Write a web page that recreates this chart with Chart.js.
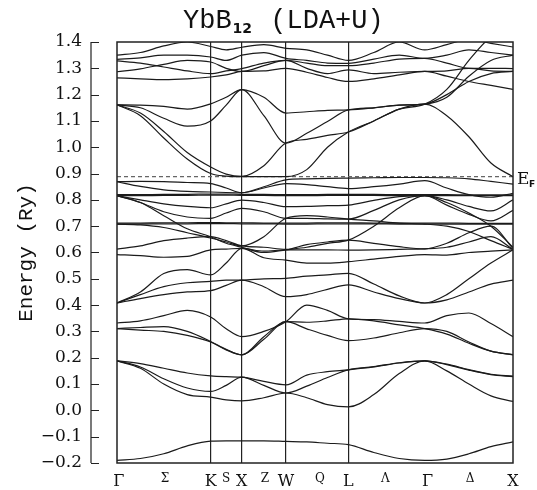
<!DOCTYPE html>
<html>
<head>
<meta charset="utf-8">
<script src="https://cdn.jsdelivr.net/npm/chart.js@4.4.0/dist/chart.umd.min.js"></script>
<style>
  html, body { margin: 0; padding: 0; background: #fff; }
</style>
</head>
<body>
<canvas id="bands" width="537" height="490"></canvas>
<script>
// k-path distances (2pi/a units): G-K-X-W-L-G-X, with sampling points in between
const kPoints = [0, 0.265, 0.530, 0.796, 1.061, 1.237, 1.414, 1.664, 1.914, 2.150, 2.385, 2.621, 2.910, 3.198, 3.487, 3.737, 3.987, 4.237, 4.487];
const symLabels = ["Γ", "Σ", "K", "S", "X", "Z", "W", "Q", "L", "Λ", "Γ", "Δ", "X"];
const symPositions = [0.02, 0.544, 1.061, 1.235, 1.414, 1.677, 1.914, 2.30, 2.621, 3.04, 3.52, 4.0, 4.487];
const minorLabels = ["Σ", "S", "Z", "Q", "Λ", "Δ"];
const lineAt = [1.061, 1.414, 1.914, 2.621, 3.487];
const fermiLevel = 0.888;

// bands (Ry), one value per entry of kPoints
const bandA  = [-0.19, -0.183, -0.165, -0.135, -0.117, -0.116, -0.116, -0.116, -0.118, -0.12, -0.125, -0.13, -0.16, -0.183, -0.19, -0.185, -0.165, -0.138, -0.12];
const bandB1 = [0.188, 0.178, 0.16, 0.142, 0.131, 0.128, 0.126, 0.11, 0.097, 0.134, 0.147, 0.154, 0.165, 0.18, 0.188, 0.176, 0.155, 0.137, 0.13];
const bandB2 = [0.188, 0.165, 0.12, 0.085, 0.072, 0.095, 0.126, 0.095, 0.066, 0.092, 0.125, 0.154, 0.166, 0.181, 0.188, 0.174, 0.153, 0.136, 0.128];
const bandB3 = [0.188, 0.16, 0.1, 0.06, 0.05, 0.04, 0.036, 0.048, 0.066, 0.048, 0.022, 0.013, 0.06, 0.14, 0.188, 0.15, 0.1, 0.055, 0.034];
const bandC1 = [0.311, 0.315, 0.318, 0.3, 0.262, 0.232, 0.211, 0.27, 0.337, 0.335, 0.34, 0.348, 0.34, 0.325, 0.311, 0.29, 0.255, 0.225, 0.211];
const bandC2 = [0.332, 0.34, 0.36, 0.38, 0.355, 0.31, 0.28, 0.3, 0.337, 0.40, 0.38, 0.348, 0.345, 0.338, 0.332, 0.36, 0.37, 0.33, 0.28];
const bandC3 = [0.311, 0.305, 0.3, 0.285, 0.26, 0.23, 0.211, 0.28, 0.337, 0.31, 0.285, 0.265, 0.275, 0.295, 0.311, 0.3, 0.26, 0.225, 0.212];
const bandD1 = [0.408, 0.425, 0.44, 0.45, 0.455, 0.475, 0.495, 0.47, 0.432, 0.44, 0.46, 0.477, 0.45, 0.425, 0.408, 0.44, 0.5, 0.56, 0.61];
const bandD2 = [0.408, 0.44, 0.47, 0.485, 0.49, 0.495, 0.495, 0.5, 0.502, 0.51, 0.515, 0.521, 0.48, 0.435, 0.408, 0.42, 0.45, 0.48, 0.495];
const bandD3 = [0.408, 0.45, 0.52, 0.535, 0.515, 0.56, 0.616, 0.58, 0.571, 0.56, 0.56, 0.565, 0.575, 0.585, 0.592, 0.59, 0.6, 0.605, 0.61];
const bandD4 = [0.592, 0.588, 0.582, 0.585, 0.61, 0.613, 0.616, 0.605, 0.61, 0.61, 0.61, 0.609, 0.61, 0.612, 0.614, 0.62, 0.64, 0.66, 0.612];
const bandD5 = [0.613, 0.625, 0.645, 0.655, 0.66, 0.645, 0.625, 0.62, 0.612, 0.63, 0.64, 0.647, 0.635, 0.622, 0.614, 0.635, 0.675, 0.70, 0.615];
const bandF1 = [0.708, 0.708, 0.709, 0.709, 0.71, 0.71, 0.709, 0.709, 0.708, 0.708, 0.709, 0.709, 0.709, 0.708, 0.708, 0.708, 0.708, 0.708, 0.708];
const bandF2 = [0.712, 0.712, 0.713, 0.713, 0.714, 0.713, 0.713, 0.712, 0.712, 0.712, 0.713, 0.713, 0.712, 0.712, 0.712, 0.712, 0.711, 0.711, 0.711];
const bandF3 = [0.816, 0.816, 0.817, 0.817, 0.818, 0.818, 0.817, 0.817, 0.816, 0.816, 0.817, 0.817, 0.817, 0.816, 0.816, 0.816, 0.816, 0.816, 0.816];
const bandF4 = [0.820, 0.820, 0.821, 0.821, 0.822, 0.822, 0.821, 0.821, 0.820, 0.820, 0.821, 0.821, 0.821, 0.820, 0.820, 0.820, 0.819, 0.819, 0.819];
const bandE3 = [0.869, 0.87, 0.869, 0.866, 0.862, 0.845, 0.827, 0.85, 0.876, 0.88, 0.882, 0.883, 0.884, 0.885, 0.885, 0.884, 0.88, 0.87, 0.86];
const bandE4 = [0.869, 0.851, 0.838, 0.832, 0.83, 0.828, 0.827, 0.845, 0.862, 0.858, 0.85, 0.843, 0.85, 0.86, 0.873, 0.845, 0.82, 0.81, 0.825];
const bandE5 = [0.816, 0.80, 0.785, 0.775, 0.77, 0.785, 0.799, 0.79, 0.774, 0.775, 0.778, 0.78, 0.798, 0.812, 0.816, 0.80, 0.775, 0.758, 0.80];
const bandE6 = [0.816, 0.79, 0.755, 0.735, 0.73, 0.75, 0.768, 0.755, 0.73, 0.73, 0.728, 0.727, 0.76, 0.80, 0.816, 0.78, 0.745, 0.72, 0.76];
const bandE7 = [0.816, 0.79, 0.74, 0.69, 0.66, 0.635, 0.62, 0.60, 0.61, 0.62, 0.635, 0.647, 0.70, 0.77, 0.816, 0.79, 0.75, 0.70, 0.62];
const bandE8 = [0.708, 0.705, 0.695, 0.675, 0.655, 0.64, 0.625, 0.66, 0.73, 0.74, 0.735, 0.727, 0.72, 0.712, 0.708, 0.70, 0.68, 0.645, 0.612];
const bandG1 = [1.161, 1.12, 1.035, 0.955, 0.90, 0.89, 0.888, 0.888, 0.888, 0.915, 1.0, 1.058, 1.1, 1.145, 1.164, 1.12, 1.04, 0.94, 0.888];
const bandG2 = [1.161, 1.13, 1.06, 0.98, 0.925, 0.898, 0.889, 0.93, 1.016, 1.03, 1.045, 1.058, 1.1, 1.145, 1.164, 1.22, 1.33, 1.42, 1.46];
const bandT1 = [1.161, 1.15, 1.11, 1.08, 1.10, 1.16, 1.219, 1.12, 1.016, 1.053, 1.098, 1.142, 1.15, 1.16, 1.164, 1.19, 1.27, 1.33, 1.35];
const bandT2 = [1.161, 1.16, 1.155, 1.145, 1.165, 1.19, 1.219, 1.19, 1.13, 1.135, 1.14, 1.142, 1.15, 1.16, 1.164, 1.2, 1.25, 1.28, 1.288];
const bandU1 = [1.35, 1.36, 1.385, 1.40, 1.383, 1.37, 1.38, 1.39, 1.376, 1.37, 1.35, 1.33, 1.36, 1.40, 1.37, 1.39, 1.41, 1.395, 1.381];
const bandU2 = [1.334, 1.34, 1.35, 1.35, 1.343, 1.33, 1.35, 1.36, 1.338, 1.33, 1.32, 1.319, 1.335, 1.35, 1.338, 1.35, 1.37, 1.36, 1.35];
const bandU3 = [1.328, 1.32, 1.305, 1.29, 1.28, 1.29, 1.299, 1.32, 1.33, 1.32, 1.31, 1.31, 1.32, 1.335, 1.338, 1.32, 1.30, 1.30, 1.299];
const bandU4 = [1.287, 1.298, 1.315, 1.33, 1.324, 1.30, 1.288, 1.31, 1.33, 1.30, 1.28, 1.294, 1.28, 1.285, 1.288, 1.29, 1.30, 1.29, 1.288];
const bandU5 = [1.264, 1.26, 1.257, 1.26, 1.267, 1.275, 1.288, 1.29, 1.30, 1.285, 1.265, 1.25, 1.26, 1.275, 1.288, 1.27, 1.25, 1.235, 1.22];

const allBands = [bandA, bandB1, bandB2, bandB3, bandC1, bandC2, bandC3, bandD1, bandD2, bandD3, bandD4, bandD5,
  bandF1, bandF2, bandF3, bandF4, bandE3, bandE4, bandE5, bandE6, bandE7, bandE8,
  bandG1, bandG2, bandT1, bandT2, bandU1, bandU2, bandU3, bandU4, bandU5];

const datasets = allBands.map(b => ({
  data: kPoints.map((k, i) => ({ x: k, y: b[i] })),
  borderColor: '#1b1b1b',
  borderWidth: 1.2,
  pointRadius: 0,
  cubicInterpolationMode: 'monotone',
  fill: false
}));
datasets.push({
  data: [{ x: 0, y: fermiLevel }, { x: 4.487, y: fermiLevel }],
  borderColor: '#666',
  borderWidth: 1.2,
  borderDash: [4, 3],
  pointRadius: 0,
  fill: false
});

const decor = {
  id: 'decor',
  afterDatasetsDraw(chart) {
    const ctx = chart.ctx, a = chart.chartArea, y = chart.scales.y;
    ctx.save();
    ctx.strokeStyle = '#222';
    ctx.lineWidth = 1.5;
    ctx.strokeRect(a.left, a.top, a.right - a.left, a.bottom - a.top);
    // detached y axis bracket
    const bx = 91;
    ctx.lineWidth = 1.2;
    ctx.beginPath();
    ctx.moveTo(bx, y.getPixelForValue(1.4));
    ctx.lineTo(bx, y.getPixelForValue(-0.2));
    for (let v = -0.2; v <= 1.401; v += 0.1) {
      const py = Math.round(y.getPixelForValue(v)) + 0.5;
      ctx.moveTo(bx, py);
      ctx.lineTo(bx + 8, py);
    }
    ctx.stroke();
    // title
    ctx.fillStyle = '#111';
    ctx.textBaseline = 'alphabetic';
    ctx.font = '27px "Liberation Mono", monospace';
    let tx = 183;
    ctx.fillText('YbB', tx, 28);
    tx += ctx.measureText('YbB').width;
    ctx.font = 'bold 14px "DejaVu Sans", sans-serif';
    ctx.fillText('12', tx + 1, 33);
    tx += ctx.measureText('12').width + 3;
    ctx.font = '27px "Liberation Mono", monospace';
    ctx.fillText(' (LDA+U)', tx, 28);
    // Fermi level label
    const fy = y.getPixelForValue(fermiLevel);
    ctx.font = '17px "DejaVu Serif", serif';
    ctx.fillText('E', a.right + 4, fy + 7);
    ctx.font = 'bold 9px "DejaVu Sans", sans-serif';
    ctx.fillText('F', a.right + 16, fy + 10);
    ctx.restore();
  }
};

new Chart(document.getElementById('bands'), {
  type: 'line',
  data: { datasets },
  plugins: [decor],
  options: {
    responsive: false,
    animation: false,
    events: [],
    layout: { padding: { top: 42, right: 24, left: 14, bottom: 0 } },
    plugins: { legend: { display: false }, tooltip: { enabled: false } },
    scales: {
      x: {
        type: 'linear',
        min: 0,
        max: 4.487,
        afterFit: s => { s.height = 27; },
        afterBuildTicks: s => { s.ticks = symPositions.map(v => ({ value: v })); },
        border: { display: false },
        grid: {
          drawTicks: false,
          lineWidth: 1.2,
          color: c => (c.tick && lineAt.some(v => Math.abs(v - c.tick.value) < 1e-6)) ? '#222' : 'rgba(0,0,0,0)'
        },
        ticks: {
          autoSkip: false,
          maxRotation: 0,
          padding: 9,
          color: '#111',
          callback: (v, i) => symLabels[i],
          font: c => minorLabels.includes(symLabels[c.index]) ? { family: '"DejaVu Serif", serif', size: 12 } : { family: '"DejaVu Serif", serif', size: 16 }
        }
      },
      y: {
        min: -0.2,
        max: 1.4,
        afterFit: s => { s.width = 103; s.paddingTop = 0; s.paddingBottom = 0; },
        border: { display: false },
        grid: { display: false, drawTicks: false },
        ticks: {
          stepSize: 0.1,
          padding: 35,
          color: '#111',
          font: { family: '"DejaVu Serif", serif', size: 17 },
          callback: v => (v < -0.001 ? '\u2212' : '') + Math.abs(v).toFixed(1)
        },
        title: {
          display: true,
          text: 'Energy (Ry)',
          color: '#111',
          font: { family: '"Liberation Mono", monospace', size: 21 },
          padding: { top: 0, bottom: 0 }
        }
      }
    }
  }
});
</script>
</body>
</html>
